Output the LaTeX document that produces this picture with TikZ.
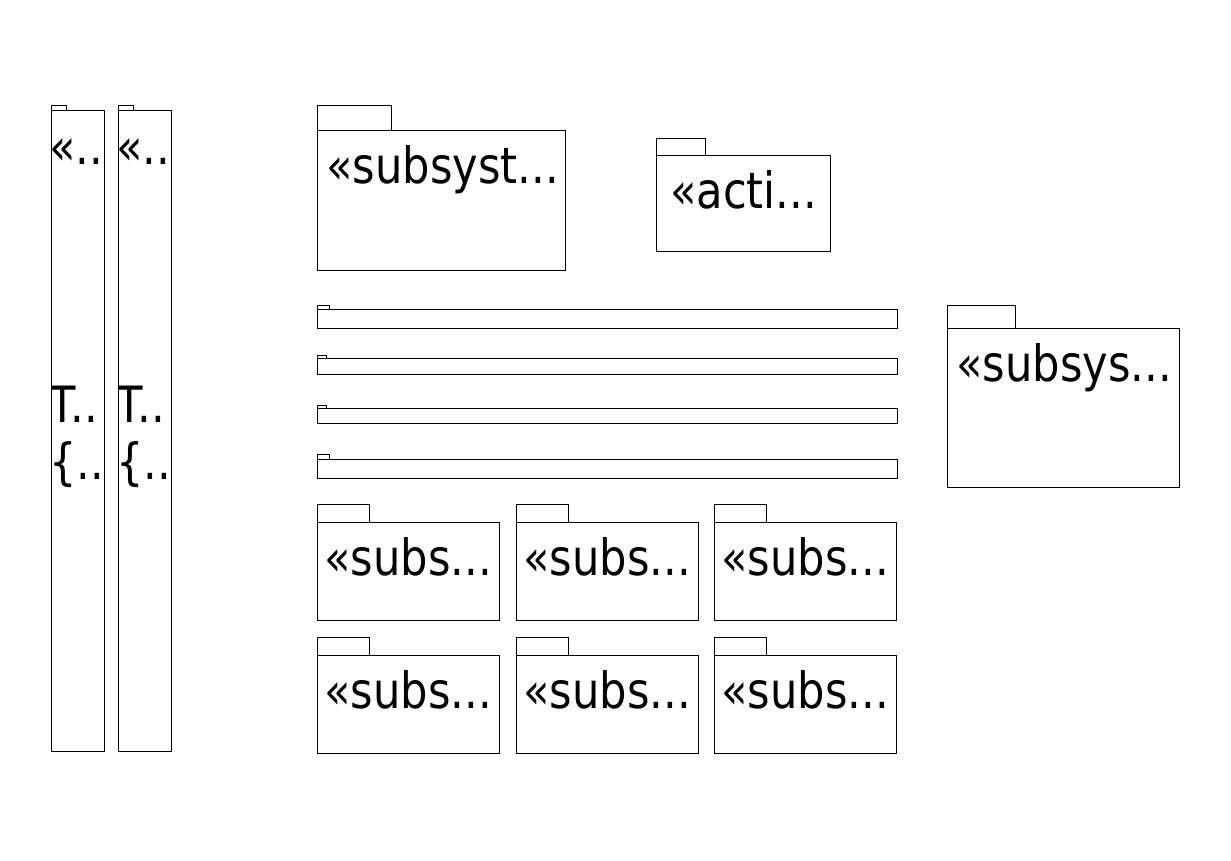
\documentclass[tikz,border=0pt]{standalone}
\usepackage{fontspec}
\setmainfont{DejaVu Sans}[FakeStretch=0.865]
\tikzset{
  pkg/.style={draw,line width=1pt},
  stereo/.style={anchor=base west,inner sep=0pt,font=\fontsize{50}{50}\selectfont}
}

\begin{document}
\begin{tikzpicture}[x=1pt,y=-1pt]
  \useasboundingbox (0,0) rectangle (1231,861);

  % tall packages on the left
  \foreach \x/\s [count=\i] in {51/{«..},118/{«...}} {
    \draw[pkg] (\x,106) rectangle ++(15,5);
    \draw[pkg] (\x,111) rectangle ++(53,640);
    \begin{scope}
      \clip (\x,111) rectangle ++(53,640);
      \node[stereo] (tall\i-st) at (\x-2,165) {\makebox[52pt][l]{\s}};
      \node[stereo] (tall\i-name) at (\x-2,422) {\makebox[52pt][l]{T..}};
      \node[stereo] (tall\i-tag) at (\x-2,479) {\makebox[52pt][l]{\{...}};
    \end{scope}
  }

  % subsystem, top
  \draw[pkg] (317,106) rectangle (391,131);
  \draw[pkg] (317,131) rectangle (565,270);
  \node[stereo] (subtop) at (326,184) {«subsyst...};

  % activity
  \draw[pkg] (656,139) rectangle (705,156);
  \draw[pkg] (656,156) rectangle (830,251);
  \node[stereo] (acti) at (670,208) {«acti...};

  % flat bars
  \foreach \y/\w/\h/\b in {305/12/4/19,355/9/3/16,405/9/3/15,454/12/5/19} {
    \draw[pkg] (317,\y) rectangle ++(\w,\h);
    \draw[pkg] (317,\y+\h) rectangle ++(580,\b);
  }

  % subsystem, right
  \draw[pkg] (947,305) rectangle (1015,328);
  \draw[pkg] (947,328) rectangle (1179,487);
  \node[stereo] (subright) at (956,381) {«subsys...};

  % grid of subsystems
  \foreach \x in {317,516,714} {
    \foreach \y in {504,637} {
      \draw[pkg] (\x,\y) rectangle ++(52,18);
      \draw[pkg] (\x,\y+18) rectangle ++(182,98);
      \node[stereo] (sub-\x-\y) at (\x+7,\y+71) {«subs...};
    }
  }
\end{tikzpicture}
\end{document}
